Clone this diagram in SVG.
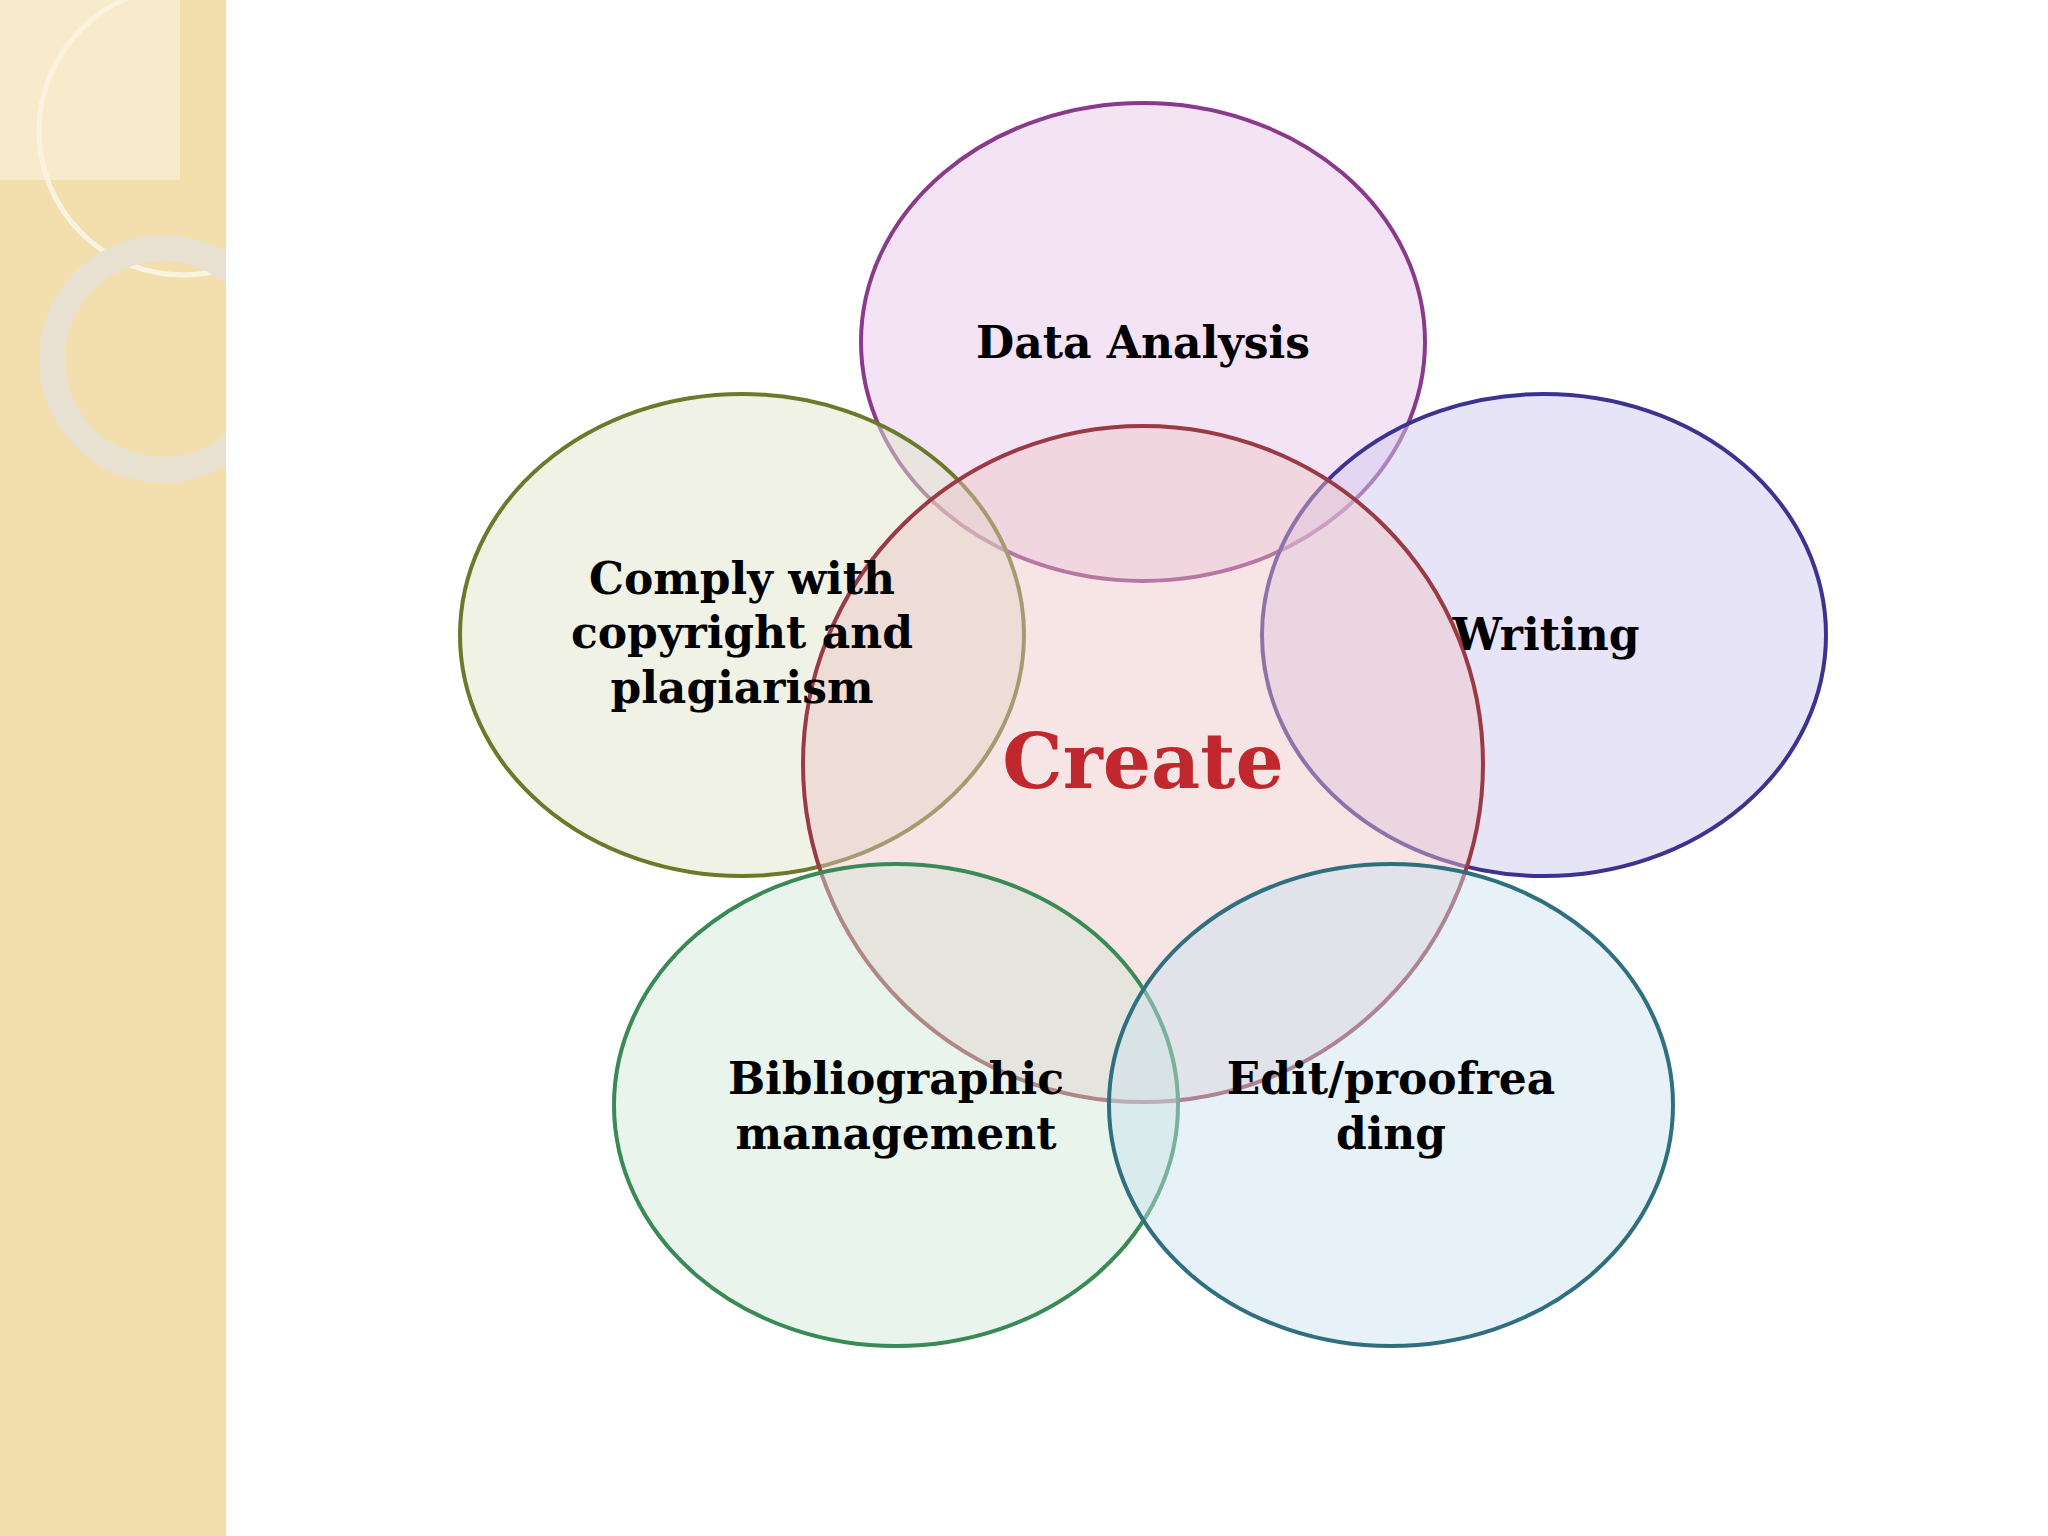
<svg xmlns="http://www.w3.org/2000/svg" width="2048" height="1536" viewBox="0 0 2048 1536">
<defs>
<style>
.t{font-family:"DejaVu Serif","Liberation Serif",serif;font-weight:bold;font-size:44px;fill:#000;text-anchor:middle}
.e{stroke-width:4}
</style>
<clipPath id="strip"><rect x="0" y="0" width="226" height="1536"/></clipPath>
</defs>
<rect width="2048" height="1536" fill="#fff"/>
<rect x="0" y="0" width="226" height="1536" fill="#f3dfae"/>
<g clip-path="url(#strip)" fill="none">
<rect x="0" y="0" width="180" height="180" fill="#f8ebcc"/>
<circle cx="183" cy="131" r="144" stroke="#fbf3e2" stroke-width="5"/>
<circle cx="163" cy="359" r="111" stroke="#e8e0d0" stroke-width="26"/>
</g>
<g id="data"><ellipse class="e" cx="1143" cy="342" rx="282" ry="239" fill="#e9c8ea" fill-opacity="0.5" stroke="#8a3a8a"/></g>
<g id="writing"><ellipse class="e" cx="1544" cy="635" rx="282" ry="241" fill="#cfcaf0" fill-opacity="0.5" stroke="#3c3390"/></g>
<g id="comply"><ellipse class="e" cx="742" cy="635" rx="282" ry="241" fill="#dfe6cc" fill-opacity="0.5" stroke="#6b7a2a"/></g>
<g id="create"><ellipse class="e" cx="1143" cy="764" rx="340" ry="338" fill="#eec3c6" fill-opacity="0.45" stroke="#9a3a45"/></g>
<g id="biblio"><ellipse class="e" cx="896" cy="1105" rx="282" ry="241" fill="#cfe6d5" fill-opacity="0.45" stroke="#3a8a55"/></g>
<g id="edit"><ellipse class="e" cx="1391" cy="1105" rx="282" ry="241" fill="#c8dff0" fill-opacity="0.45" stroke="#2f6f80"/></g>
<g id="connectors"/>
<g id="labels">
<text class="t" x="1143" y="358">Data Analysis</text>
<text class="t" x="742" y="594">Comply with</text>
<text class="t" x="742" y="648">copyright and</text>
<text class="t" x="742" y="703">plagiarism</text>
<text class="t" x="1546" y="650">Writing</text>
<text class="t" x="1143" y="788" style="font-size:76px;fill:#c0282d">Create</text>
<text class="t" x="896" y="1094">Bibliographic</text>
<text class="t" x="896" y="1149">management</text>
<text class="t" x="1391" y="1094">Edit/proofrea</text>
<text class="t" x="1391" y="1149">ding</text>
</g>
</svg>
